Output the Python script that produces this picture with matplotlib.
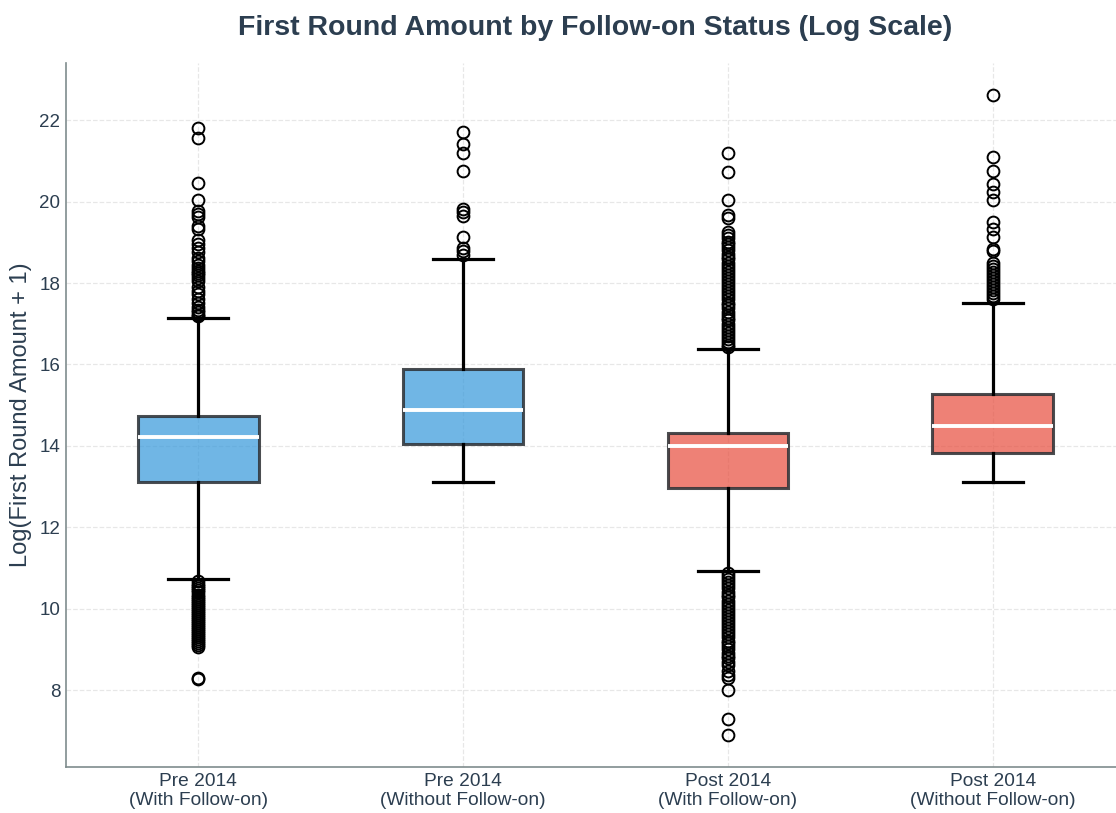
import matplotlib
matplotlib.use('Agg')
from matplotlib import pyplot as plt
from matplotlib.colors import to_rgba

plt.rcParams['font.family'] = ['Liberation Sans', 'DejaVu Sans']

labels = ['Pre 2014\n(With Follow-on)', 'Pre 2014\n(Without Follow-on)',
          'Post 2014\n(With Follow-on)', 'Post 2014\n(Without Follow-on)']
q1 = [13.12, 14.05, 12.97, 13.83]
med = [14.22, 14.89, 14.00, 14.50]
q3 = [14.74, 15.90, 14.32, 15.28]
whislo = [10.73, 13.12, 10.93, 13.12]
whishi = [17.13, 18.58, 16.39, 17.52]

fliers_pre_with = [21.80, 21.55, 20.45, 20.03, 19.78, 19.70, 19.62, 19.40, 19.32,
                   19.05, 18.95, 18.85, 18.75, 18.62, 18.55, 18.45, 18.38, 18.30,
                   18.25, 18.20, 18.12, 18.05, 17.90, 17.80, 17.72, 17.60, 17.50,
                   17.42, 17.35, 17.28, 17.22, 17.18,
                   10.68, 10.62, 10.55, 10.50, 10.45, 10.40, 10.35, 10.30, 10.25,
                   10.20, 10.15, 10.10, 10.05, 10.00, 9.95, 9.90, 9.85, 9.80, 9.75,
                   9.70, 9.65, 9.60, 9.55, 9.50, 9.45, 9.40, 9.35, 9.30, 9.25, 9.20,
                   9.15, 9.10, 9.06, 8.30, 8.27]
fliers_pre_without = [21.71, 21.41, 21.20, 20.74, 19.81, 19.74, 19.64, 19.12,
                      18.85, 18.78, 18.70]
fliers_post_with = [21.20, 20.72, 20.05, 19.68, 19.60, 19.25, 19.18, 19.10, 19.02,
                    18.95, 18.88, 18.80, 18.72, 18.65, 18.58, 18.50, 18.42, 18.35,
                    18.28, 18.20, 18.12, 18.05, 17.98, 17.90, 17.82, 17.75, 17.68,
                    17.60, 17.52, 17.45, 17.38, 17.30, 17.22, 17.15, 17.08, 17.00,
                    16.92, 16.85, 16.78, 16.70, 16.62, 16.55, 16.48, 16.42,
                    10.88, 10.80, 10.72, 10.65, 10.58, 10.50, 10.42, 10.35, 10.28,
                    10.20, 10.12, 10.05, 9.98, 9.90, 9.82, 9.75, 9.68, 9.60, 9.52,
                    9.45, 9.38, 9.30, 9.22, 9.15, 9.08, 9.00, 8.92, 8.85, 8.78, 8.70,
                    8.62, 8.48, 8.38, 8.30, 8.00, 7.29, 6.90]
fliers_post_without = [22.62, 21.09, 20.75, 20.43, 20.23, 20.03, 19.51, 19.32,
                       19.12, 18.83, 18.78, 18.50, 18.42, 18.35, 18.28, 18.20,
                       18.12, 18.05, 17.98, 17.90, 17.82, 17.75, 17.68, 17.60]
fliers = [fliers_pre_with, fliers_pre_without, fliers_post_with, fliers_post_without]
fill_colors = ['#3498DB', '#3498DB', '#E74C3C', '#E74C3C']

stats = []
for i in range(4):
    stats.append({'label': labels[i], 'q1': q1[i], 'med': med[i], 'q3': q3[i],
                  'whislo': whislo[i], 'whishi': whishi[i], 'fliers': fliers[i]})

fig = plt.figure(figsize=(11.16, 8.13), dpi=100)
ax = fig.add_axes([0.0591, 0.0566, 0.949, 0.866])

bp = ax.bxp(stats, widths=0.455, patch_artist=True,
            boxprops=dict(linewidth=2.2),
            medianprops=dict(color='white', linewidth=2.8),
            whiskerprops=dict(color='black', linewidth=2.3),
            capprops=dict(color='black', linewidth=2.3),
            flierprops=dict(marker='o', markerfacecolor='none', markeredgecolor='black',
                            markersize=8.5, markeredgewidth=1.4))
for patch, c in zip(bp['boxes'], fill_colors):
    patch.set_facecolor(to_rgba(c, 0.7))
    patch.set_edgecolor(to_rgba('#2B2F33', 0.85))

ax.set_xlim(0.5, 4.5)
ax.set_title('First Round Amount by Follow-on Status (Log Scale)', fontsize=20.5,
             fontweight='bold', color='#2C3E50', pad=20)
ax.set_ylabel('Log(First Round Amount + 1)', fontsize=17, color='#2C3E50', labelpad=5)
ax.tick_params(axis='both', length=0, labelsize=13.5, colors='#2C3E50')
ax.tick_params(axis='x', pad=4, labelsize=13.8)
ax.tick_params(axis='y', pad=4)
ax.grid(True, linestyle='--', color='#DDDDDD', alpha=0.7, linewidth=0.9)
ax.set_axisbelow(True)
for side in ['top', 'right']:
    ax.spines[side].set_visible(False)
for side in ['left', 'bottom']:
    ax.spines[side].set_color('#7F8C8D')
    ax.spines[side].set_linewidth(1.2)

plt.savefig('out.png', dpi=100)
